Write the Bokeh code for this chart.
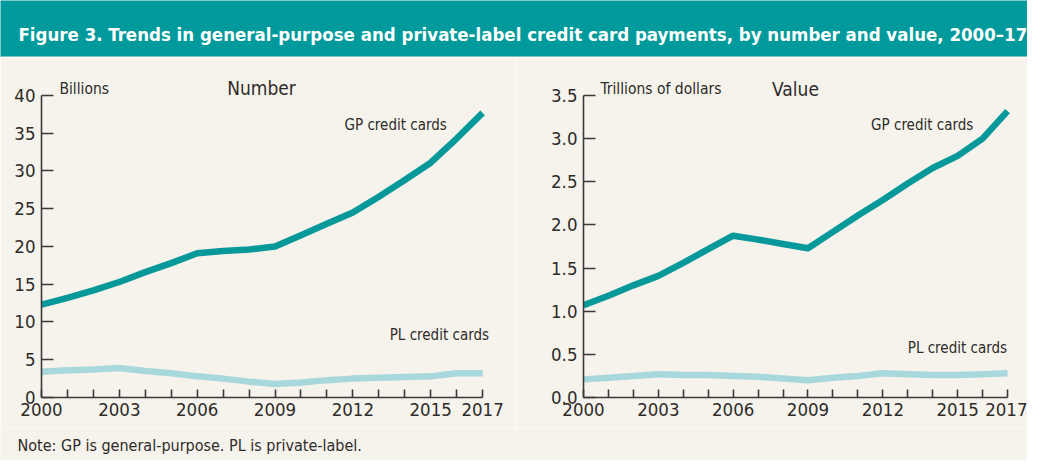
from bokeh.plotting import figure
from bokeh.models import Range1d, FixedTicker, PrintfTickFormatter
from bokeh.layouts import column, row
from bokeh.embed import file_html
from bokeh.resources import INLINE
from bokeh.core.properties import value

# ---------------- data ----------------
years = list(range(2000, 2018))
labeled_years = [2000, 2003, 2006, 2009, 2012, 2015, 2017]

gp_number = [12.3, 13.2, 14.2, 15.3, 16.6, 17.8, 19.1, 19.4, 19.6, 20.0,
             21.5, 23.0, 24.5, 26.6, 28.8, 31.1, 34.3, 37.7]
pl_number = [3.4, 3.6, 3.7, 3.9, 3.5, 3.2, 2.8, 2.5, 2.1, 1.8,
             2.0, 2.3, 2.5, 2.6, 2.7, 2.8, 3.2, 3.2]
gp_value = [1.07, 1.18, 1.30, 1.41, 1.56, 1.72, 1.875, 1.83, 1.78, 1.73,
            1.92, 2.11, 2.29, 2.48, 2.66, 2.80, 3.00, 3.32]
pl_value = [0.21, 0.23, 0.25, 0.27, 0.26, 0.26, 0.25, 0.24, 0.22, 0.20,
            0.23, 0.25, 0.28, 0.27, 0.26, 0.26, 0.27, 0.28]

number_ticks = [0, 5, 10, 15, 20, 25, 30, 35, 40]
value_ticks = [0.0, 0.5, 1.0, 1.5, 2.0, 2.5, 3.0, 3.5]

title_text = "Figure 3. Trends in general-purpose and private-label credit card payments, by number and value, 2000\u201317"
note_text = "Note: GP is general-purpose. PL is private-label."

# ---------------- styles ----------------
FONT = "DejaVu Sans Condensed"
CREAM = "#F6F3ED"
TEAL = "#009A9C"
GP_COLOR = "#07989A"
PL_COLOR = "#A8D8DC"
TEXT = "#2E2B29"
AXIS = "#3C3A38"
TOTAL_W = 1027
LEFT_W = 516
HEADER_H = 57
ROW_H = 371
NOTE_H = 32


def style_axes(p, yticks, ymax_bound, fmt=None):
    p.grid.visible = False
    p.outline_line_color = None
    xa = p.xaxis[0]
    xa.ticker = FixedTicker(ticks=years)
    xa.major_label_overrides = {y: (str(y) if y in labeled_years else "") for y in years}
    xa.major_tick_in = 8
    xa.major_tick_out = 0
    xa.minor_tick_line_color = None
    xa.bounds = (2000, 2017)
    xa.major_label_standoff = 5
    ya = p.yaxis[0]
    ya.ticker = FixedTicker(ticks=yticks)
    if fmt:
        ya.formatter = PrintfTickFormatter(format=fmt)
    ya.major_tick_in = 12
    ya.major_tick_out = 0
    ya.minor_tick_line_color = None
    ya.bounds = (0, ymax_bound)
    ya.major_label_standoff = 6
    for ax in (xa, ya):
        ax.axis_line_color = AXIS
        ax.axis_line_width = 1.6
        ax.major_tick_line_color = AXIS
        ax.major_tick_line_width = 1.6
        ax.major_label_text_font = FONT
        ax.major_label_text_font_size = "18.5px"
        ax.major_label_text_color = TEXT


def add_text(p, x, y, s, size, align="left"):
    p.text(x=[x], y=[y], text=[s], text_font=value(FONT), text_font_size=size,
           text_color=TEXT, text_align=align, text_baseline="middle")


# ---------------- header ----------------
header = figure(width=TOTAL_W, height=HEADER_H, x_range=Range1d(0, TOTAL_W), y_range=Range1d(0, HEADER_H),
                output_backend="svg", toolbar_location=None, min_border=0,
                background_fill_color=TEAL, border_fill_color=TEAL, outline_line_color=None)
header.axis.visible = False
header.grid.visible = False
header.quad(left=[0], right=[TOTAL_W], bottom=[0], top=[1.2], fill_color="#A9D3CF", line_color=None)
header.text(x=[18], y=[23], text=[title_text], text_font=value(FONT), text_font_style="bold",
            text_font_size="18.5px", text_color="white", text_align="left", text_baseline="alphabetic")

# ---------------- left: number ----------------
left = figure(width=LEFT_W, height=ROW_H, x_range=Range1d(2000, 2017.69), y_range=Range1d(0, 43.97),
              output_backend="svg", toolbar_location=None,
              background_fill_color=CREAM, border_fill_color=CREAM,
              min_border_left=41, min_border_right=16, min_border_top=8, min_border_bottom=31)
style_axes(left, number_ticks, 40)
left.line(years, pl_number, line_color=PL_COLOR, line_width=6.5, line_join="round")
left.line(years, gp_number, line_color=GP_COLOR, line_width=6.5, line_join="round")
add_text(left, 2000.69, 40.8, "Billions", "15.5px")
add_text(left, 2008.48, 40.95, "Number", "19px", align="center")
add_text(left, 2011.68, 36.1, "GP credit cards", "15px")
add_text(left, 2013.42, 8.3, "PL credit cards", "15px")

# ---------------- right: value ----------------
right = figure(width=TOTAL_W - LEFT_W, height=ROW_H, x_range=Range1d(2000, 2017.52), y_range=Range1d(0, 3.848),
               output_backend="svg", toolbar_location=None,
               background_fill_color=CREAM, border_fill_color=CREAM,
               min_border_left=67, min_border_right=7, min_border_top=8, min_border_bottom=31)
style_axes(right, value_ticks, 3.5, fmt="%.1f")
right.line(years, pl_value, line_color=PL_COLOR, line_width=6.5, line_join="round")
right.line(years, gp_value, line_color=GP_COLOR, line_width=6.5, line_join="round")
add_text(right, 2000.68, 3.57, "Trillions of dollars", "15.5px")
add_text(right, 2008.5, 3.58, "Value", "19px", align="center")
add_text(right, 2011.53, 3.16, "GP credit cards", "15px")
add_text(right, 2013.0, 0.57, "PL credit cards", "15px")

# ---------------- note ----------------
note = figure(width=TOTAL_W, height=NOTE_H, x_range=Range1d(0, TOTAL_W), y_range=Range1d(0, NOTE_H),
              output_backend="svg", toolbar_location=None, min_border=0,
              background_fill_color=CREAM, border_fill_color=CREAM, outline_line_color=None)
note.axis.visible = False
note.grid.visible = False
note.text(x=[17], y=[15], text=[note_text], text_font=value(FONT), text_font_size="16px",
          text_color=TEXT, text_align="left", text_baseline="alphabetic")

p = column(header, row(left, right), note)
open("out.html", "w").write(file_html(p, INLINE))
